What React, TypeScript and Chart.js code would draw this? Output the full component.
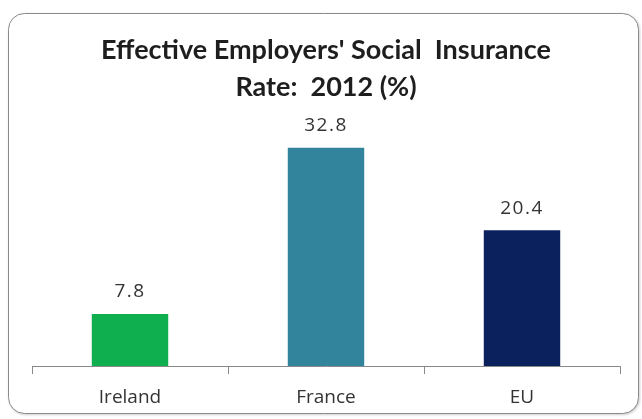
import React, { useEffect, useRef } from "react";
import { Chart, registerables } from "chart.js";

Chart.register(...registerables);

const categories = ["Ireland", "France", "EU"];
const values = [7.8, 32.8, 20.4];
const barColors = ["#0FAF50", "#31849B", "#0A215E"];
const titleLines = ["Effective Employers' Social  Insurance", "Rate:  2012 (%)"];

const TITLE_FONT = "Lato, 'Open Sans', sans-serif";
const TEXT_FONT = "'Open Sans', 'DejaVu Sans', sans-serif";

const framePlugin = {
  id: "frame",
  beforeDraw(chart: any) {
    const ctx = chart.ctx;
    ctx.save();
    ctx.fillStyle = "#ffffff";
    ctx.fillRect(0, 0, chart.width, chart.height);
    const x = 8.5, y = 13.5, w = 630, h = 400, r = 16;
    ctx.shadowColor = "rgba(0,0,0,0.25)";
    ctx.shadowBlur = 3;
    ctx.shadowOffsetX = 1;
    ctx.shadowOffsetY = 1;
    ctx.beginPath();
    ctx.roundRect(x, y, w, h, r);
    ctx.fillStyle = "#ffffff";
    ctx.fill();
    ctx.shadowColor = "transparent";
    ctx.strokeStyle = "#8a8a8a";
    ctx.lineWidth = 1;
    ctx.stroke();
    ctx.restore();
  },
};

const valueLabelPlugin = {
  id: "valueLabels",
  afterDatasetsDraw(chart: any) {
    const ctx = chart.ctx;
    const meta = chart.getDatasetMeta(0);
    const data = chart.data.datasets[0].data as number[];
    ctx.save();
    ctx.font = `19px ${TEXT_FONT}`;
    (ctx as any).letterSpacing = "1.5px";
    ctx.fillStyle = "#333333";
    ctx.textAlign = "center";
    ctx.textBaseline = "middle";
    meta.data.forEach((el: any, i: number) => {
      ctx.fillText(data[i].toFixed(1), el.x, el.y - 22);
    });
    ctx.restore();
  },
};

export default function App() {
  const ref = useRef<HTMLCanvasElement | null>(null);
  useEffect(() => {
    if (!ref.current) return;
    const chart = new Chart(ref.current, {
      type: "bar",
      data: {
        labels: categories,
        datasets: [
          {
            data: values,
            backgroundColor: barColors,
            barPercentage: 0.78,
            categoryPercentage: 0.5,
          },
        ],
      },
      options: {
        animation: false,
        responsive: false,
        layout: { padding: { left: 32, right: 22, top: 0, bottom: 12 } },
        plugins: {
          legend: { display: false },
          tooltip: { enabled: false },
          title: {
            display: true,
            text: titleLines,
            color: "#1e1e1e",
            font: { family: TITLE_FONT, size: 27, weight: "bold", lineHeight: 1.37 },
            padding: { top: 31.5, bottom: 27.5 },
          },
        },
        scales: {
          x: {
            afterFit(scale: any) {
              scale.height = 41;
            },
            grid: {
              offset: true,
              drawOnChartArea: false,
              drawTicks: true,
              tickLength: 8,
              color: "#8a8a8a",
            },
            border: { display: true, color: "#8a8a8a", width: 1 },
            ticks: {
              color: "#333333",
              padding: 12,
              font: { family: TEXT_FONT, size: 19 },
            },
          },
          y: {
            display: false,
            min: 0,
            max: 35,
          },
        },
      },
      plugins: [framePlugin, valueLabelPlugin],
    });
    return () => chart.destroy();
  }, []);
  return (
    <div style={{ position: "fixed", left: 0, top: 0, width: 642, height: 419 }}>
      <canvas ref={ref} width={642} height={419} style={{ display: "block" }} />
    </div>
  );
}
